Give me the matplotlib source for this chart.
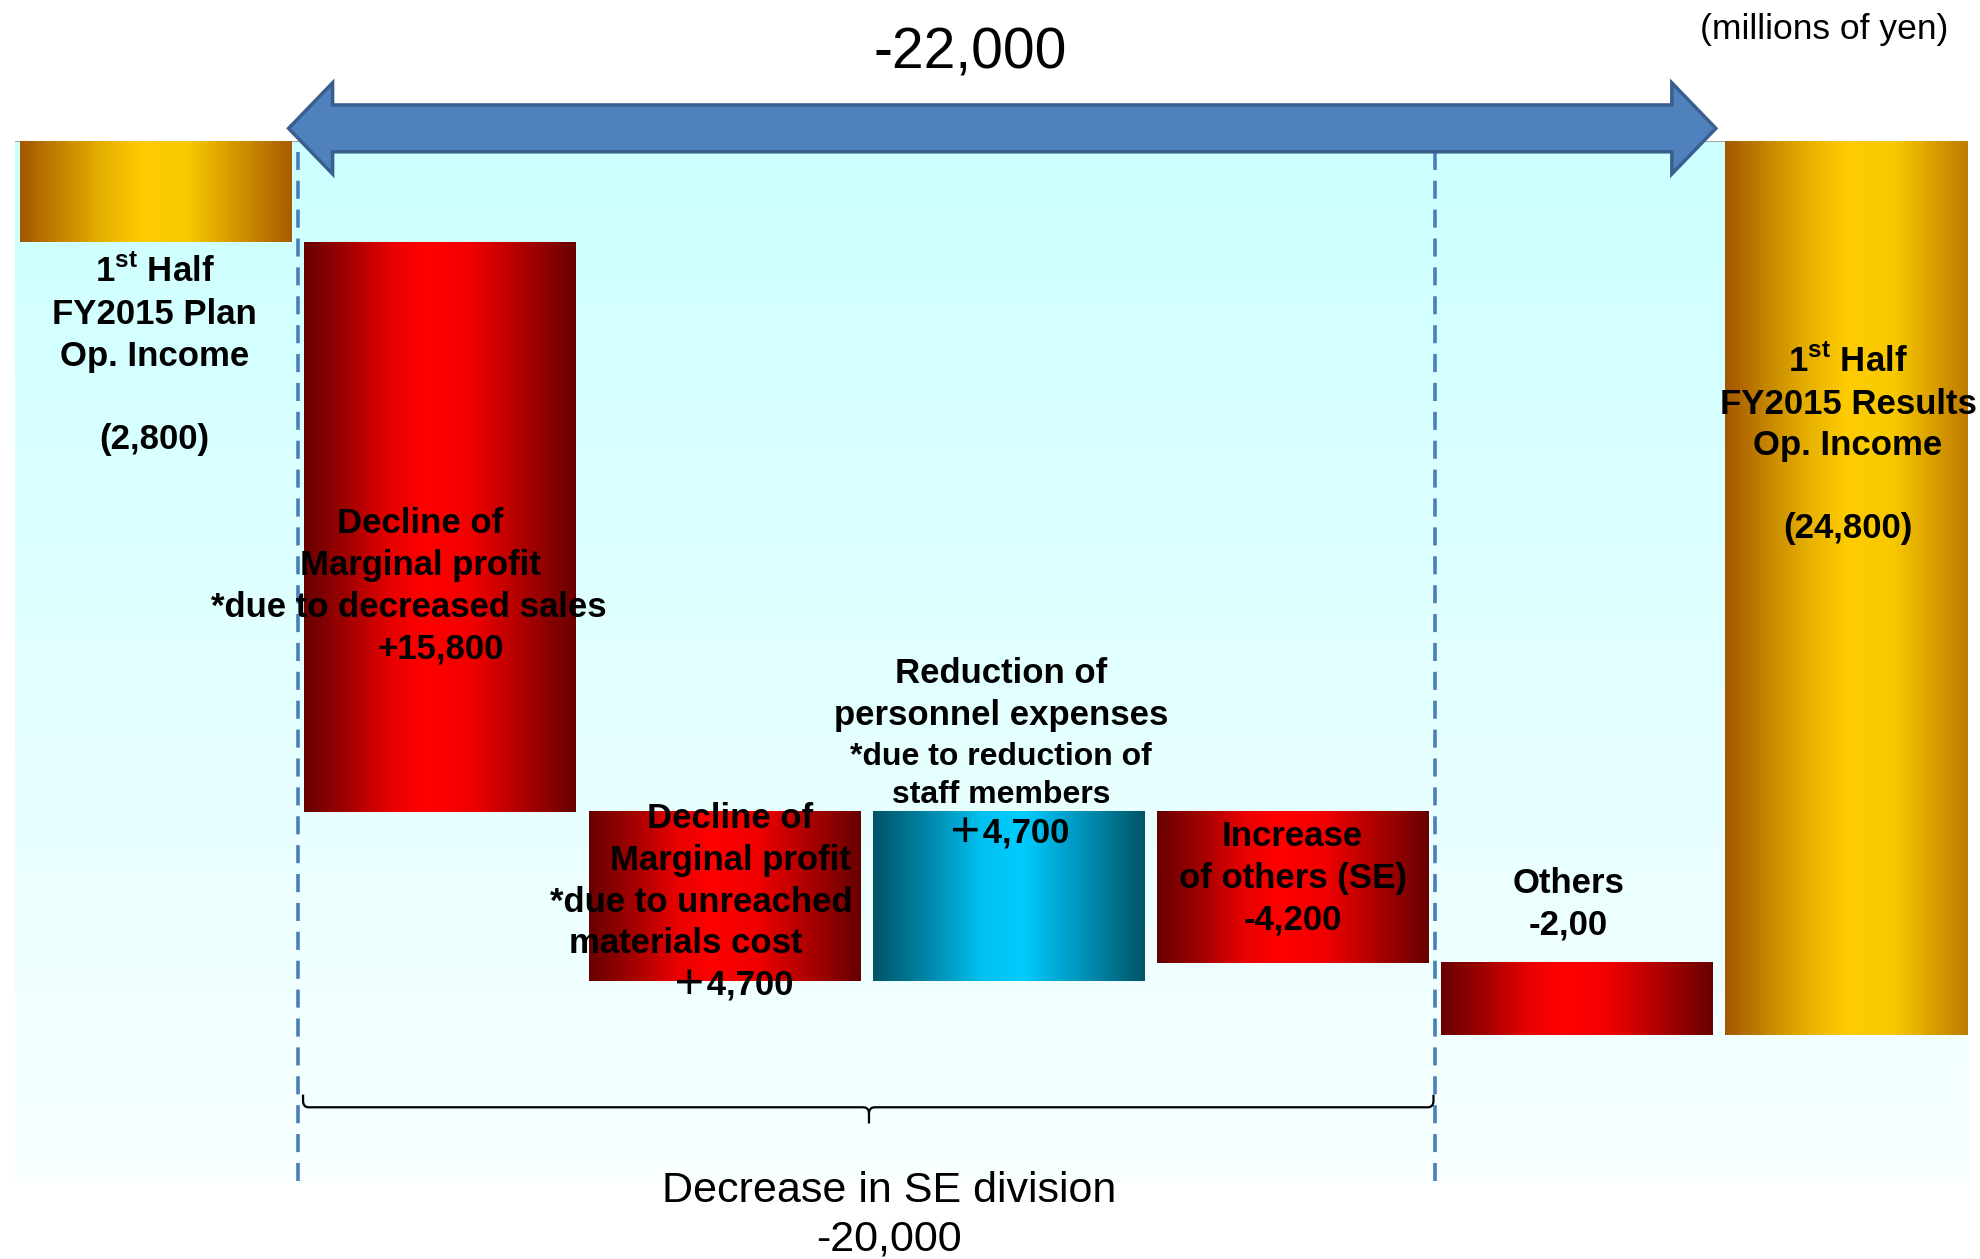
import numpy as np
import matplotlib
matplotlib.use("Agg")
import matplotlib.pyplot as plt
from matplotlib.colors import LinearSegmentedColormap
from matplotlib.patches import Polygon, PathPatch
from matplotlib.path import Path

# operating income bridge, millions of yen
plan_income = -2800
changes = [-15800, -4700, 4700, -4200, -2000]
results_income = -24800
bar_kinds = ["gold", "red", "red", "teal", "red", "red", "gold"]

total_change_text = "-22,000"
se_change_text = "-20,000"

plan_lines = ["1$^{\\rm st}$ Half", "FY2015 Plan", "Op. Income", "", "(2,800)"]
sales_lines = ["Decline of", "Marginal profit", "*due to decreased sales"]
sales_value = "+15,800"
materials_lines = ["Decline of", "Marginal profit", "*due to unreached", "materials cost"]
materials_value = "＋4,700"
personnel_lines = ["Reduction of", "personnel expenses"]
personnel_small = ["*due to reduction of", "staff members"]
personnel_value = "＋4,700"
others_se_lines = ["Increase", "of others (SE)", "-4,200"]
others_lines = ["Others", "-2,00"]
results_lines = ["1$^{\\rm st}$ Half", "FY2015 Results", "Op. Income", "", "(24,800)"]

plt.rcParams['font.family'] = ['Liberation Sans', 'Noto Sans CJK JP', 'DejaVu Sans']
plt.rcParams['mathtext.fontset'] = 'custom'
plt.rcParams['mathtext.rm'] = 'Liberation Sans:bold'
plt.rcParams['mathtext.bf'] = 'Liberation Sans:bold'

# waterfall bottoms / heights
heights = [plan_income] + changes + [results_income]
bottoms = [0]
level = plan_income
for c in changes:
    bottoms.append(level)
    level += c
bottoms.append(0)
xpos = np.arange(len(heights))

gradients = {
    "gold": LinearSegmentedColormap.from_list("gold", [(0, "#A35800"), (0.3, "#E6B000"), (0.45, "#FFCC00"),
                                                       (0.62, "#F8C800"), (1, "#A85C00")]),
    "red": LinearSegmentedColormap.from_list("red", [(0, "#680000"), (0.15, "#9E0000"), (0.32, "#E80000"),
                                                     (0.45, "#FF0000"), (0.62, "#F00000"), (0.8, "#B00000"),
                                                     (1, "#680000")]),
    "teal": LinearSegmentedColormap.from_list("teal", [(0, "#005468"), (0.2, "#0086A8"), (0.4, "#00C0F0"),
                                                       (0.55, "#00CCFF"), (0.75, "#0098C0"), (1, "#005468")]),
}

fig = plt.figure(figsize=(19.8, 12.59), dpi=100)
ax = fig.add_axes([15 / 1980, 1 - 1183 / 1259, (1967 - 15) / 1980, (1183 - 141) / 1259])
ax.axis('off')

# light cyan background
bg = LinearSegmentedColormap.from_list("bg", ["#CCFFFF", "#F8FFFF"])
ax.imshow(np.linspace(0, 1, 256)[:, None], cmap=bg, aspect='auto', extent=(0, 1, 0, 1),
          transform=ax.transAxes, zorder=0)
ax.axhline(0, color='#A6A6A6', lw=1.5, zorder=1)

bars = ax.bar(xpos, heights, bottom=bottoms, width=0.956, color='#CC0000', zorder=2)
grad = np.linspace(0, 1, 256)[None, :]
for bar, kind in zip(bars, bar_kinds):
    x0, w = bar.get_x(), bar.get_width()
    y0, h = bar.get_y(), bar.get_height()
    ax.imshow(grad, cmap=gradients[kind], aspect='auto',
              extent=(x0, x0 + w, min(y0, y0 + h), max(y0, y0 + h)), zorder=3)

ax.set_xlim(-0.497, 6.374)
ax.set_ylim(-28900, 0)

# dashed bounds of the SE division
ax.vlines([0.5, 4.5], -28850, -300, colors='#4A7EBB', lw=2.6, linestyles=(0, (5, 3)), zorder=4)

# double headed block arrow on top
x0, x1, yc = 0.466, 5.49, 350
hl, sw, hw = 0.155, 650, 1265
arrow_pts = [(x0, yc), (x0 + hl, yc + hw), (x0 + hl, yc + sw), (x1 - hl, yc + sw), (x1 - hl, yc + hw),
             (x1, yc), (x1 - hl, yc - hw), (x1 - hl, yc - sw), (x0 + hl, yc - sw), (x0 + hl, yc - hw)]
ax.add_patch(Polygon(arrow_pts, closed=True, facecolor='#4F81BD', edgecolor='#3A5F8E', lw=2.5,
                     joinstyle='miter', clip_on=False, zorder=5))

# curly brace under the SE bars
bx0, bx1, bxc = 0.517, 4.496, 2.509
ytop, ymid, ytip = -26450, -26800, -27250
rx, ry = 0.02, 180
verts = [(bx0, ytop), (bx0, ymid + ry), (bx0, ymid), (bx0 + rx, ymid), (bxc - rx, ymid), (bxc, ymid),
         (bxc, ymid - ry), (bxc, ytip),
         (bxc, ymid - ry), (bxc, ymid), (bxc + rx, ymid), (bx1 - rx, ymid), (bx1, ymid), (bx1, ymid + ry),
         (bx1, ytop)]
codes = [Path.MOVETO, Path.LINETO, Path.CURVE3, Path.CURVE3, Path.LINETO, Path.CURVE3, Path.CURVE3, Path.LINETO,
         Path.MOVETO, Path.CURVE3, Path.CURVE3, Path.LINETO, Path.CURVE3, Path.CURVE3, Path.LINETO]
ax.add_patch(PathPatch(Path(verts, codes), facecolor='none', edgecolor='black', lw=1.6, zorder=4))


def put_lines(xs, y_first, lines, size=25, step=1155):
    if np.isscalar(xs):
        xs = [xs] * len(lines)
    for i, (x, line) in enumerate(zip(xs, lines)):
        ax.text(x, y_first - i * step - 340, line, ha='center', va='baseline', fontsize=size,
                fontweight='bold', zorder=6)


put_lines(-0.005, -3580, plan_lines)
put_lines([0.93, 0.93, 0.89], -10540, sales_lines)
put_lines(1.0, -10540 - 3 * 1155, [sales_value])
put_lines([2.02, 2.02, 1.918, 1.864], -18726, materials_lines)
put_lines(2.03, -18726 - 4 * 1155, [materials_value])
put_lines(2.975, -14703, personnel_lines)
put_lines(2.975, -16977, personnel_small, size=23, step=1050)
put_lines(3.0, -19146, [personnel_value])
put_lines(4.0, -19216, others_se_lines)
put_lines(4.97, -20509, others_lines)
put_lines(5.955, -6064, results_lines)

fig.text(970 / 1980, 1 - 53 / 1259, total_change_text, ha='center', va='center', fontsize=41)
fig.text(1948 / 1980, 1 - 29 / 1259, "(millions of yen)", ha='right', va='center', fontsize=25.5)
fig.text(889 / 1980, 1 - 1191 / 1259, "Decrease in SE division", ha='center', va='center', fontsize=31)
fig.text(889 / 1980, 1 - 1240 / 1259, se_change_text, ha='center', va='center', fontsize=31)

fig.savefig("out.png", dpi=100, facecolor='white')
